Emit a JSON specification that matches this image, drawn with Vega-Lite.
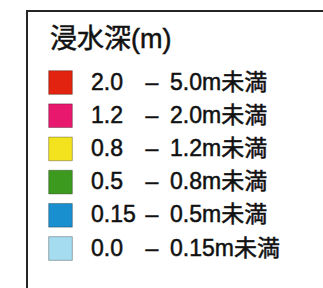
{
  "$schema": "https://vega.github.io/schema/vega-lite/v6.json",
  "width": 300,
  "height": 290,
  "autosize": {"type": "none"},
  "padding": {"left": 27, "top": 11, "right": 0, "bottom": 0},
  "background": "white",
  "config": {
    "view": {"stroke": "#262626", "strokeWidth": 2},
    "font": "Liberation Sans, Noto Sans CJK JP"
  },
  "datasets": {
    "rows": [
      {"row": 0, "lo": "2.0", "hi": "5.0m未満", "color": "#e2230f"},
      {"row": 1, "lo": "1.2", "hi": "2.0m未満", "color": "#e8186f"},
      {"row": 2, "lo": "0.8", "hi": "1.2m未満", "color": "#f3e31e"},
      {"row": 3, "lo": "0.5", "hi": "0.8m未満", "color": "#3c9b1e"},
      {"row": 4, "lo": "0.15", "hi": "0.5m未満", "color": "#1a8fd0"},
      {"row": 5, "lo": "0.0", "hi": "0.15m未満", "color": "#a6dcef"}
    ],
    "heading": [{"row": -1.28, "label": "浸水深(m)"}]
  },
  "layer": [
    {
      "data": {"name": "rows"},
      "mark": {"type": "point", "shape": "square", "filled": true, "size": 560, "stroke": "#000000", "strokeOpacity": 0.3, "strokeWidth": 1, "opacity": 1},
      "encoding": {
        "x": {"datum": 33.5, "type": "quantitative", "scale": {"domain": [0, 300], "nice": false, "zero": false}, "axis": null},
        "y": {"field": "row", "type": "quantitative", "scale": {"domain": [-2.154, 6.581], "nice": false, "zero": false, "reverse": true}, "axis": null},
        "fill": {"field": "color", "type": "nominal", "scale": null, "legend": null}
      }
    },
    {
      "data": {"name": "rows"},
      "mark": {"type": "text", "align": "left", "baseline": "middle", "fontSize": 23, "color": "#111111", "stroke": "#111111", "strokeWidth": 0.5},
      "encoding": {
        "x": {"datum": 64, "type": "quantitative"},
        "y": {"field": "row", "type": "quantitative"},
        "text": {"field": "lo"}
      }
    },
    {
      "data": {"name": "rows"},
      "mark": {"type": "text", "align": "center", "baseline": "middle", "fontSize": 23, "color": "#111111", "stroke": "#111111", "strokeWidth": 0.5, "text": "–"},
      "encoding": {
        "x": {"datum": 125, "type": "quantitative"},
        "y": {"field": "row", "type": "quantitative"}
      }
    },
    {
      "data": {"name": "rows"},
      "mark": {"type": "text", "align": "left", "baseline": "middle", "fontSize": 23, "color": "#111111", "stroke": "#111111", "strokeWidth": 0.5},
      "encoding": {
        "x": {"datum": 143, "type": "quantitative"},
        "y": {"field": "row", "type": "quantitative"},
        "text": {"field": "hi"}
      }
    },
    {
      "data": {"name": "heading"},
      "mark": {"type": "text", "align": "left", "baseline": "middle", "fontSize": 27, "color": "#111111", "stroke": "#111111", "strokeWidth": 0.5},
      "encoding": {
        "x": {"datum": 23, "type": "quantitative"},
        "y": {"field": "row", "type": "quantitative"},
        "text": {"field": "label"}
      }
    }
  ]
}
